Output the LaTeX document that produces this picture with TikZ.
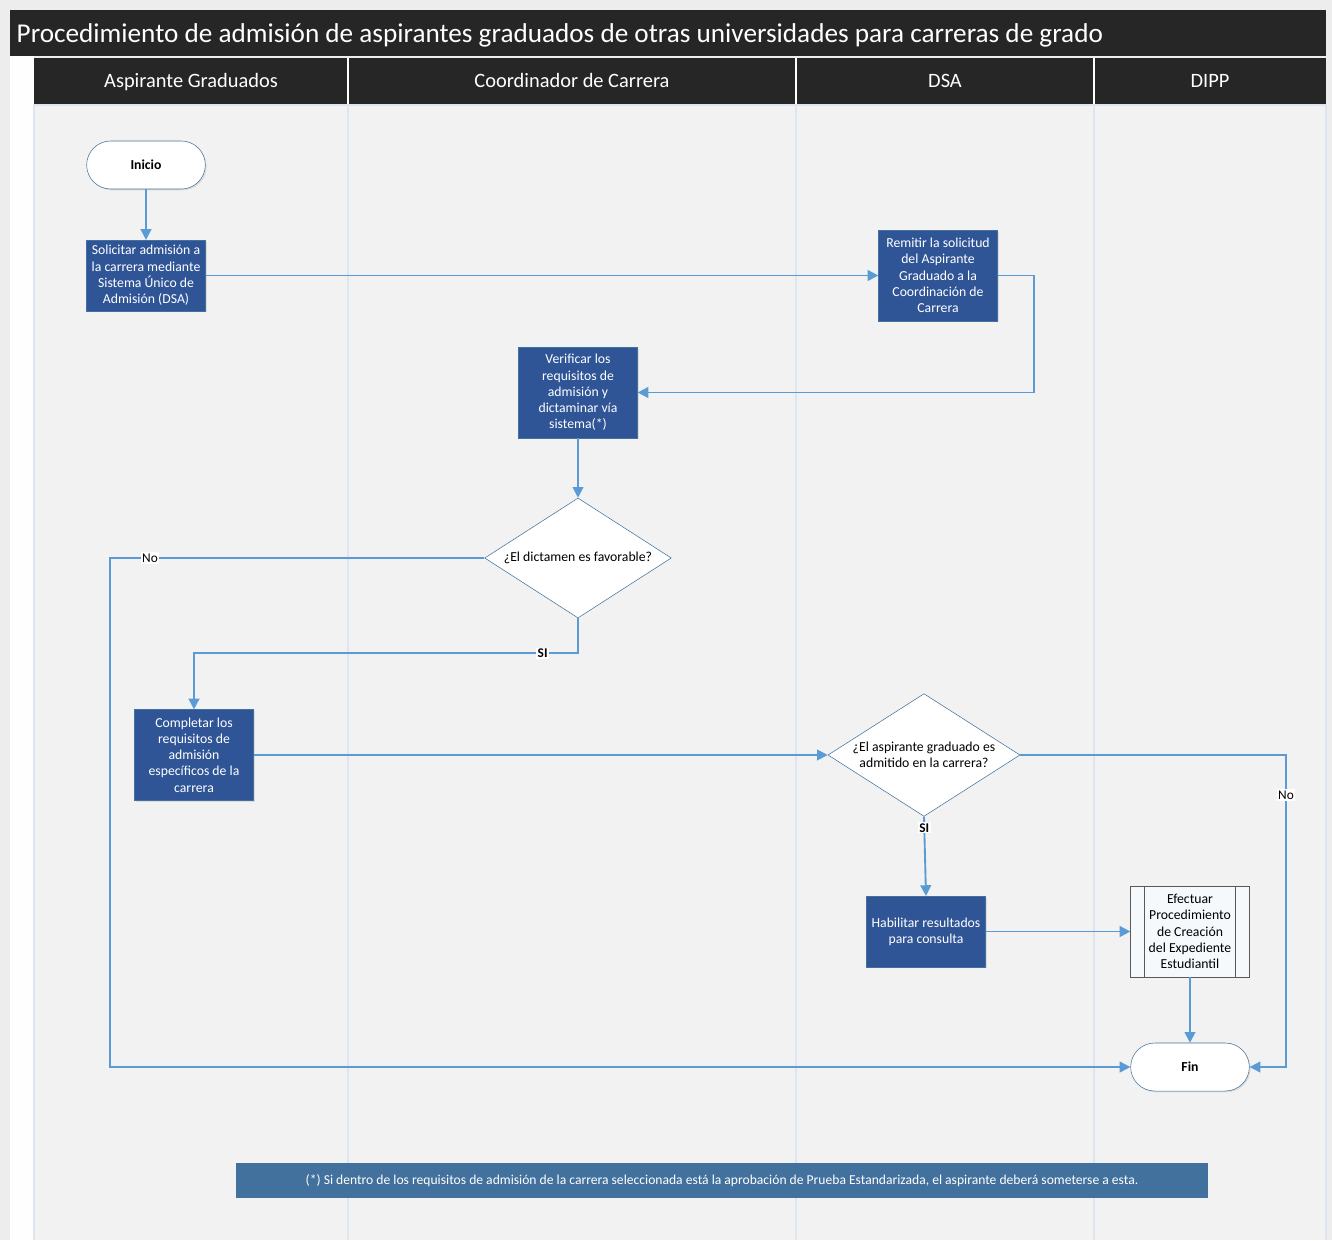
\documentclass[tikz,border=0pt]{standalone}
\usepackage{fontspec}
\setmainfont{Carlito}
\usetikzlibrary{shapes.geometric,arrows.meta,shadows,positioning}

\definecolor{barra}{HTML}{262626}
\definecolor{fondo}{HTML}{F2F2F2}
\definecolor{caja}{HTML}{2F5597}
\definecolor{borde}{HTML}{41719C}
\definecolor{linea}{HTML}{5B9BD5}
\definecolor{carril}{HTML}{DDE6F0}

\tikzstyle{startstop} = [rectangle, rounded corners=18pt, minimum width=89pt, minimum height=36pt, text centered, draw=borde, fill=white, font=\bfseries\fontsize{10.3}{12.2}\selectfont, drop shadow={shadow xshift=1pt, shadow yshift=-1pt, opacity=0.2}]
\tikzstyle{process} = [rectangle, minimum width=89pt, minimum height=53pt, inner sep=3pt, align=center, draw=borde, fill=caja, text=white, font=\fontsize{10.3}{12.2}\selectfont, drop shadow={shadow xshift=1pt, shadow yshift=-1pt, opacity=0.2}]
\tikzstyle{bigprocess} = [process, minimum height=68pt]
\tikzstyle{subprocess} = [rectangle, minimum width=89pt, minimum height=68pt, inner sep=3pt, align=center, draw=gray!70!black, fill=white!94!linea, font=\fontsize{10.3}{12.2}\selectfont]
\tikzstyle{decision} = [diamond, aspect=1.56, minimum width=140pt, minimum height=90pt, inner sep=0pt, align=center, draw=borde, fill=white, font=\fontsize{10.3}{12.2}\selectfont]
\tikzstyle{arrow} = [line width=1.4pt, draw=linea, -{Triangle[length=8pt,width=8pt]}]
\tikzstyle{lbl} = [fill=white, inner sep=1pt, font=\fontsize{10}{12}\selectfont]
\tikzstyle{lanehead} = [text=white, text height=1.6ex, text depth=0.3ex, font=\fontsize{15.3}{18}\selectfont]

\begin{document}
\begin{tikzpicture}[x=0.75pt, y=-0.75pt]
			\useasboundingbox (0,0) rectangle (1332,1240);
			\fill [fondo!98!black] (0,0) rectangle (1332,1240);
			\fill [white!97!fondo] (10,56) rectangle (34,1240);
			\fill [fondo] (34,104) rectangle (1326,1240);
			\draw [carril, line width=1.5pt] (34,105) -- (1326,105);
			\foreach \x in {34,348,796,1094,1326}
				\draw [carril, line width=1pt] (\x,104) -- (\x,1240);

			\fill [barra] (10,10) rectangle (1326,56);
			\fill [barra] (34,58) rectangle (1326,104);
			\foreach \x in {348,796,1094}
				\draw [white, line width=0.8pt] (\x,58) -- (\x,104);
			\node (title) [anchor=west, text=white, font=\fontsize{20.4}{24}\selectfont] at (12,35) {Procedimiento de admisión de aspirantes graduados de otras universidades para carreras de grado};
			\node (h1) [lanehead] at (191,83) {Aspirante Graduados};
			\node (h2) [lanehead] at (572,83) {Coordinador de Carrera};
			\node (h3) [lanehead] at (945,83) {DSA};
			\node (h4) [lanehead] at (1210,83) {DIPP};

			\node (0) [startstop] at (146,165) {Inicio};
			\node (1) [process] at (146,275.5) {Solicitar admisión a\\la carrera mediante\\Sistema Único de\\Admisión (DSA)};
			\node (2) [bigprocess] at (938,275.5) {Remitir la solicitud\\del Aspirante\\Graduado a la\\Coordinación de\\Carrera};
			\node (3) [bigprocess] at (578,392.5) {Verificar los\\requisitos de\\admisión y\\dictaminar vía\\sistema(*)};
			\node (4) [decision] at (578,558) {¿El dictamen es favorable?};
			\node (5) [bigprocess] at (194,755) {Completar los\\requisitos de\\admisión\\específicos de la\\carrera};
			\node (6) [decision, minimum width=144pt, minimum height=92pt] at (924,755) {¿El aspirante graduado es\\admitido en la carrera?};
			\node (7) [process] at (926,931.5) {Habilitar resultados\\para consulta};
			\node (8) [subprocess] at (1190,931.5) {Efectuar\\Procedimiento\\de Creación\\del Expediente\\Estudiantil};
			\node (9) [startstop] at (1190,1067) {Fin};
			\node (10) [fill=borde, text=white, minimum width=729pt, minimum height=26pt, font=\fontsize{10.2}{12}\selectfont] at (722,1180.5) {(*) Si dentro de los requisitos de admisión de la carrera seleccionada está la aprobación de Prueba Estandarizada, el aspirante deberá someterse a esta.};
			\draw [gray!70!black] ([xshift=10.5pt]8.north west) -- ([xshift=10.5pt]8.south west);
			\draw [gray!70!black] ([xshift=-10.5pt]8.north east) -- ([xshift=-10.5pt]8.south east);

			\coordinate (c1) at (110,558);
			\coordinate (c2) at (1286,755);

			\draw [arrow] (0) -- (1);
			\draw [arrow] (1) -- (2);
			\draw [arrow] (2.east) -- ++(36,0) |- (3.east);
			\draw [arrow] (3) -- (4);
			\draw [arrow] (4.west) -- node [lbl, pos=0.893] {No} (c1) |- (9.west);
			\draw [arrow] (4.south) -- ++(0,35) -| node [lbl, pos=0.046, font=\bfseries\fontsize{10}{12}\selectfont] {SI} (5.north);
			\draw [arrow] (5.east) -- (6.west);
			\draw [arrow] (6.east) -- (c2) |- node [lbl, pos=0.064] {No} (9.east);
			\draw [arrow] (6.south) -- node [lbl, pos=0.14, font=\bfseries\fontsize{10}{12}\selectfont] {SI} (7.north);
			\draw [arrow] (7) -- (8);
			\draw [arrow] (8) -- (9);
		\end{tikzpicture}
\end{document}
